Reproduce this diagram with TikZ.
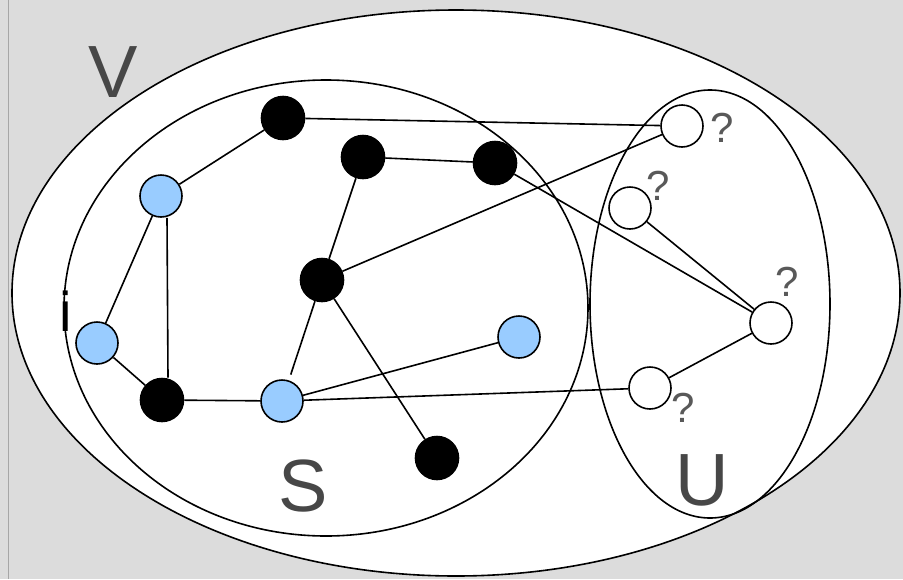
\documentclass[tikz,border=0pt]{standalone}
\usepackage{fontspec}
\setmainfont{Liberation Sans}
\begin{document}
\begin{tikzpicture}[x=1pt,y=-1pt,
  blk/.style={circle,draw=black,fill=black,line width=1.6pt,minimum size=43pt,inner sep=0pt},
  blu/.style={circle,draw=black,fill=bluec,line width=1.6pt,minimum size=42pt,inner sep=0pt},
  wht/.style={circle,draw=black,fill=white,line width=1.6pt,minimum size=42pt,inner sep=0pt},
  set/.style={draw=black,line width=1.6pt},
  edge/.style={draw=black,line width=1.6pt},
  big/.style={text=black!72,font=\fontsize{74}{74}\selectfont,inner sep=0pt},
  qm/.style={text=black!65,font=\fontsize{42}{42}\selectfont,inner sep=0pt}]
\definecolor{bgc}{RGB}{220,220,220}
\definecolor{bluec}{RGB}{153,204,255}
\useasboundingbox (0,0) rectangle (903,579);
\fill[bgc] (0,0) rectangle (903,579);
\draw[black!35,line width=1pt] (8,0) -- (8,579);
% sets
\filldraw[set,fill=white] (456,293) ellipse [x radius=444,y radius=283];
\draw[set] (326,308) ellipse [x radius=262,y radius=228];
\draw[set] (710,304) ellipse [x radius=120,y radius=214];
% labels
\node[big] (V) at (113,72) {V};
\node[big] (S) at (303,486) {S};
\node[big] (U) at (702,480) {U};
\node[text=black,font=\fontsize{56}{56}\selectfont,inner sep=0pt] (I) at (66,311) {i};
% nodes
\node[blk] (b1) at (283,118) {};
\node[blk] (b2) at (363,157) {};
\node[blk] (b3) at (495,163) {};
\node[blk] (b4) at (322,280) {};
\node[blk] (b5) at (162,400) {};
\node[blk] (b6) at (437,458) {};
\node[blu] (c1) at (161,196) {};
\node[blu] (c2) at (97,343) {};
\node[blu] (c3) at (282,401) {};
\node[blu] (c4) at (519,337) {};
\node[wht] (w1) at (682,126) {};
\node[wht] (w2) at (630,208) {};
\node[wht] (w3) at (771,323) {};
\node[wht] (w4) at (650,388) {};
\node[qm] (q1) at (722,128) {?};
\node[qm] (q2) at (658,186) {?};
\node[qm] (q3) at (787,282) {?};
\node[qm] (q4) at (683,408) {?};
% edges
\draw[edge] (b1) -- (w1);
\draw[edge] (b1) -- (c1);
\draw[edge] (b2) -- (b3);
\draw[edge] (b2) -- (b4);
\draw[edge] (b3) -- (w3);
\draw[edge] (w2) -- (w3);
\draw[edge] (b4) -- (w1);
\draw[edge] (b4) -- (b6);
\draw[edge,shorten >=6pt] (b4) -- (c3);
\draw[edge] (c1) -- (c2);
\draw[edge] ([xshift=6pt]c1.south) -- ([xshift=6pt]b5.north);
\draw[edge] (c2) -- (b5);
\draw[edge] (b5) -- (c3);
\draw[edge] (c3) -- (c4);
\draw[edge] (c3) -- (w4);
\draw[edge] (w4) -- (w3);
\end{tikzpicture}
\end{document}
